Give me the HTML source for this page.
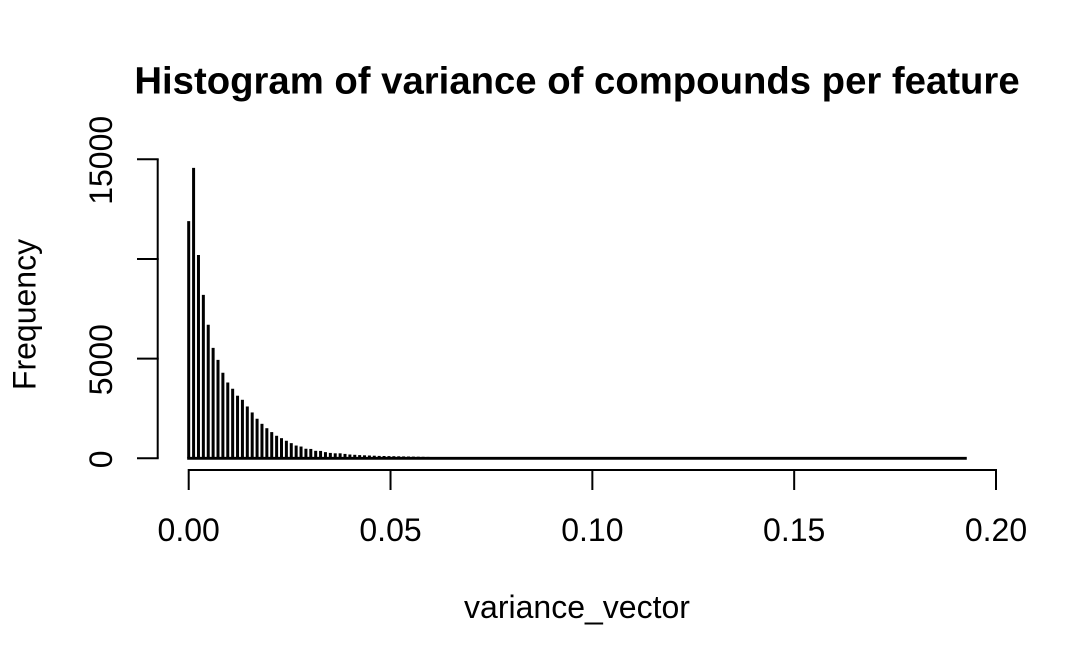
<!DOCTYPE html>
<html lang="en">
<head>
<meta charset="utf-8">
<title>Histogram of variance of compounds per feature</title>
<style>
  html, body { margin: 0; padding: 0; background: #fff; }
  svg { display: block; }
  text { font-family: "Liberation Sans", Arial, sans-serif; fill: #000; }
</style>
</head>
<body>
<svg id="chart" xmlns="http://www.w3.org/2000/svg" width="1078" height="666" viewBox="0 0 1078 666">
  <rect x="0" y="0" width="1078" height="666" fill="#fff"></rect>
  <text x="577" y="93.5" font-size="38.3" font-weight="bold" text-anchor="middle">Histogram of variance of compounds per feature</text>
  <text x="577" y="618" font-size="32" text-anchor="middle">variance_vector</text>
  <text transform="translate(35.5 314.5) rotate(-90)" font-size="32" text-anchor="middle">Frequency</text>
</svg>
<script>
const binStart = 0;
const binWidth = 0.00121;
const frequencies = [
  11900, 14570, 10200, 8200, 6700, 5540, 4940, 4290, 3800, 3490,
  3140, 2935, 2600, 2300, 1985, 1730, 1510, 1315, 1130, 1010,
  880, 760, 640, 590, 480, 470, 375, 370, 310, 270,
  250, 250, 220, 190, 175, 160, 150, 140, 130, 120,
  115, 110, 105, 100, 95, 90, 85, 80, 75, 70,
  60, 50, 40, 30, 26, 24, 22, 20, 18, 16,
  14, 12, 11, 10, 9, 8, 8, 7, 6, 6,
  5, 5, 4, 4, 4, 3, 3, 3, 3, 2,
  2, 2, 2, 2, 2, 1, 1, 1, 1, 1,
  1, 1, 1, 1, 1, 0, 1, 0, 1, 0,
  1, 0, 0, 1, 0, 0, 1, 0, 0, 0,
  1, 0, 0, 0, 0, 1, 0, 0, 0, 0,
  0, 1, 0, 0, 0, 0, 0, 0, 1, 0,
  0, 0, 0, 0, 0, 0, 0, 1, 0, 0,
  0, 0, 0, 0, 0, 0, 0, 0, 0, 1,
  0, 0, 0, 0, 0, 0, 0, 0, 0, 1
];
const xTickValues = [0, 0.05, 0.10, 0.15, 0.20];
const xTickLabels = ["0.00", "0.05", "0.10", "0.15", "0.20"];
const yTickValues = [0, 5000, 10000, 15000];
const yTickLabels = ["0", "5000", "", "15000"];

const svg = document.getElementById('chart');
const NS = 'http://www.w3.org/2000/svg';
const xScale = v => 188.7 + v * (996 - 188.7) / 0.2;
const yScale = v => 458.3 - v * (458.3 - 159.3) / 15000;

function makeLine(x1, y1, x2, y2, width, colour) {
  const l = document.createElementNS(NS, 'line');
  l.setAttribute('x1', x1);
  l.setAttribute('y1', y1);
  l.setAttribute('x2', x2);
  l.setAttribute('y2', y2);
  l.setAttribute('stroke', colour);
  l.setAttribute('stroke-width', width);
  svg.appendChild(l);
  return l;
}

const binX = i => xScale(binStart + i * binWidth);

frequencies.forEach((f, i) => {
  const bar = makeLine(binX(i), yScale(0), binX(i), yScale(f), 3, '#000');
  
  
});

const baseline = makeLine(binX(0) - 1.5, yScale(0), binX(frequencies.length - 1) + 1.5, yScale(0), 2.8, '#000');



const xAxisY = 470;
const xAxisLine = makeLine(xScale(xTickValues[0]), xAxisY, xScale(xTickValues[xTickValues.length - 1]), xAxisY, 2, '#000');



xTickValues.forEach((v, i) => {
  const tick = makeLine(xScale(v), xAxisY - 1, xScale(v), 490, 2, '#000');
  
  
  const t = document.createElementNS(NS, 'text');
  
  
  t.setAttribute('x', xScale(v));
  t.setAttribute('y', 541);
  t.setAttribute('font-size', '32');
  t.setAttribute('text-anchor', 'middle');
  t.textContent = xTickLabels[i];
  svg.appendChild(t);
});

const yAxisX = 157.7;
const yAxisLine = makeLine(yAxisX, yScale(yTickValues[0]), yAxisX, yScale(yTickValues[yTickValues.length - 1]), 2, '#000');



yTickValues.forEach((v, i) => {
  const tick = makeLine(137, yScale(v), yAxisX + 1, yScale(v), 2, '#000');
  
  
  const t = document.createElementNS(NS, 'text');
  
  
  t.setAttribute('transform', 'translate(112 ' + (yScale(v) + 1) + ') rotate(-90)');
  t.setAttribute('font-size', '32');
  t.setAttribute('text-anchor', 'middle');
  t.textContent = yTickLabels[i];
  svg.appendChild(t);
});
</script>
</body>
</html>
